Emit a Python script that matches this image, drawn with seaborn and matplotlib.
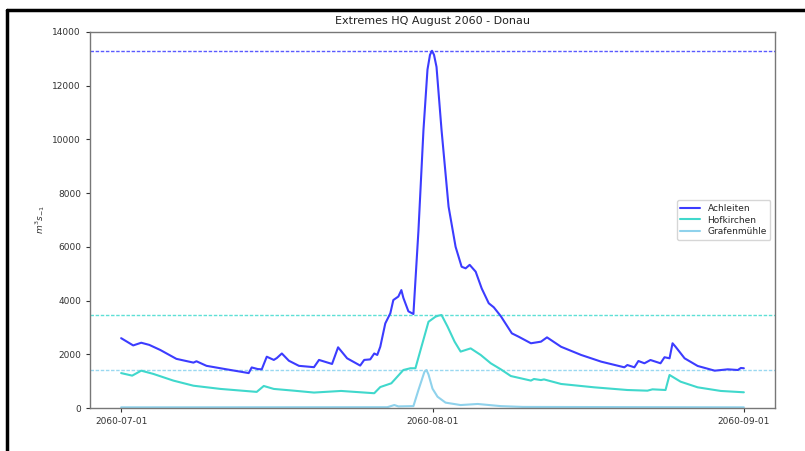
import numpy as np
import pandas as pd
import matplotlib
matplotlib.use("Agg")
import matplotlib.pyplot as plt
import matplotlib.dates as mdates
from matplotlib.lines import Line2D
import seaborn as sns

# ---- data (days after 2060-07-01, discharge m^3/s) ----
achleiten_days = [0, 1.2, 2.0, 2.8, 3.9, 5.5, 7.2, 7.5, 8.5, 10.5, 12.7, 13.0, 13.6, 14.0, 14.5,
                  15.2, 15.5, 16.0, 16.7, 17.7, 19.2, 19.7, 21.0, 21.6, 22.5, 23.8, 24.2, 24.8,
                  25.2, 25.5, 25.8, 26.3, 26.8, 27.1, 27.6, 27.9, 28.1, 28.6, 29.1, 29.6, 30.1,
                  30.5, 30.75, 30.95, 31.15, 31.4, 31.9, 32.6, 33.3, 33.9, 34.3, 34.7, 35.3, 35.9,
                  36.6, 37.1, 37.8, 38.9, 39.6, 40.8, 41.8, 42.4, 43.8, 45.8, 47.8, 50.1, 50.4,
                  51.1, 51.5, 52.1, 52.7, 53.7, 54.1, 54.6, 54.9, 55.2, 56.1, 57.4, 59.1, 60.4,
                  61.4, 61.7, 62.0]
achleiten_vals = [2600, 2330, 2430, 2350, 2160, 1830, 1690, 1740, 1570, 1440, 1300, 1510, 1450, 1440, 1910,
                  1790, 1860, 2030, 1760, 1570, 1520, 1790, 1640, 2260, 1850, 1580, 1790, 1810,
                  2030, 1975, 2280, 3150, 3525, 4020, 4150, 4390, 4100, 3600, 3500, 6600, 10350,
                  12600, 13150, 13300, 13150, 12700, 10350, 7500, 6000, 5260, 5200, 5330, 5075, 4450,
                  3900, 3750, 3420, 2780, 2650, 2410, 2470, 2630, 2280, 1975, 1725, 1515, 1600,
                  1515, 1750, 1665, 1787, 1665, 1890, 1850, 2410, 2280, 1850, 1565, 1390, 1440,
                  1415, 1490, 1480]

hofkirchen_days = [0, 1.1, 2.0, 3.2, 5.2, 7.2, 9.9, 13.5, 14.2, 15.2, 17.2, 19.2, 21.9, 25.2, 25.8,
                   26.9, 28.1, 28.8, 29.3, 29.9, 30.6, 31.3, 31.6, 31.9, 32.5, 33.2, 33.8, 34.8,
                   35.8, 36.8, 37.8, 38.8, 40.8, 41.1, 41.8, 42.1, 43.8, 47.1, 50.4, 52.4, 52.9,
                   54.2, 54.6, 55.7, 57.4, 59.7, 62.0]
hofkirchen_vals = [1300, 1205, 1390, 1270, 1020, 830, 710, 600, 820, 710, 645, 575, 635, 550, 780,
                   920, 1415, 1480, 1480, 2280, 3210, 3400, 3440, 3462, 3030, 2470, 2100, 2220,
                   1975, 1665, 1440, 1190, 1020, 1080, 1040, 1065, 895, 770, 670, 645, 695,
                   670, 1230, 980, 770, 635, 585]

grafen_days = [0, 26.5, 27.2, 27.6, 29.1, 29.6, 30.2, 30.4, 30.6, 31.0, 31.5, 32.3, 33.8, 35.5,
               37.8, 40.0, 62.0]
grafen_vals = [25, 30, 110, 60, 70, 670, 1350, 1415, 1250, 720, 420, 200, 110, 150,
               70, 40, 25]

stations = ["Achleiten", "Hofkirchen", "Grafenmühle"]
colors = {"Achleiten": "#3c3cff", "Hofkirchen": "#40d8cc", "Grafenmühle": "#8fd2ec"}
hline_colors = {"Achleiten": "#5a5aff", "Hofkirchen": "#5ee0d6", "Grafenmühle": "#9ad8f0"}

start = pd.Timestamp("2060-07-01")


def frame(name, days, vals):
    return pd.DataFrame({
        "date": start + pd.to_timedelta(np.array(days), unit="D"),
        "Q": vals,
        "station": name,
    })


df = pd.concat([
    frame("Achleiten", achleiten_days, achleiten_vals),
    frame("Hofkirchen", hofkirchen_days, hofkirchen_vals),
    frame("Grafenmühle", grafen_days, grafen_vals),
], ignore_index=True)

sns.set_style("white")
plt.rcParams["font.family"] = ["DejaVu Sans"]

fig = plt.figure(figsize=(8.05, 4.51), dpi=100)
ax = fig.add_axes([90 / 805, 1 - 408 / 451, (775 - 90) / 805, (408 - 32) / 451])

sns.lineplot(data=df, x="date", y="Q", hue="station", hue_order=stations,
             palette=colors, linewidth=1.5, ax=ax, legend=True)

for name in stations:
    m = df.loc[df.station == name, "Q"].max()
    ax.axhline(m, color=hline_colors[name], linestyle=(0, (2.5, 1.2)), linewidth=1.0,
               label="_nolegend_", zorder=1)

ax.set_ylim(0, 14000)
ax.set_yticks(np.arange(0, 14001, 2000))
ax.set_xlim(start - pd.Timedelta(days=3.1), pd.Timestamp("2060-09-01") + pd.Timedelta(days=3.1))
ax.set_xticks([pd.Timestamp("2060-07-01"), pd.Timestamp("2060-08-01"), pd.Timestamp("2060-09-01")])
ax.xaxis.set_major_formatter(mdates.DateFormatter("%Y-%m-%d"))

ax.set_xlabel("")
ax.set_ylabel(r"$m^3s_{-1}$", fontsize=6.5, color="#333333")
ax.set_title("Extremes HQ August 2060 - Donau", fontsize=8, color="#222222", pad=6)
ax.tick_params(axis="both", labelsize=6.5, colors="#333333", length=3, width=0.8, direction="out",
               bottom=True, left=True)
for s in ax.spines.values():
    s.set_color("#777777")
    s.set_linewidth(1.0)

handles = [Line2D([0], [0], color=colors[n], lw=1.5) for n in stations]
leg = ax.legend(handles, stations, loc="center right", fontsize=6.5, frameon=True,
                handlelength=2.2, borderpad=0.4, labelspacing=0.3)
leg.get_frame().set_edgecolor("#cccccc")

# black screenshot frame (left and top edges)
fig.add_artist(Line2D([7 / 805, 7 / 805], [0, 1 - 10 / 451], color="black", lw=2.5,
                      transform=fig.transFigure))
fig.add_artist(Line2D([7 / 805, 1], [1 - 10 / 451, 1 - 10 / 451], color="black", lw=2.5,
                      transform=fig.transFigure))

fig.savefig("out.png", dpi=100, facecolor="white")
